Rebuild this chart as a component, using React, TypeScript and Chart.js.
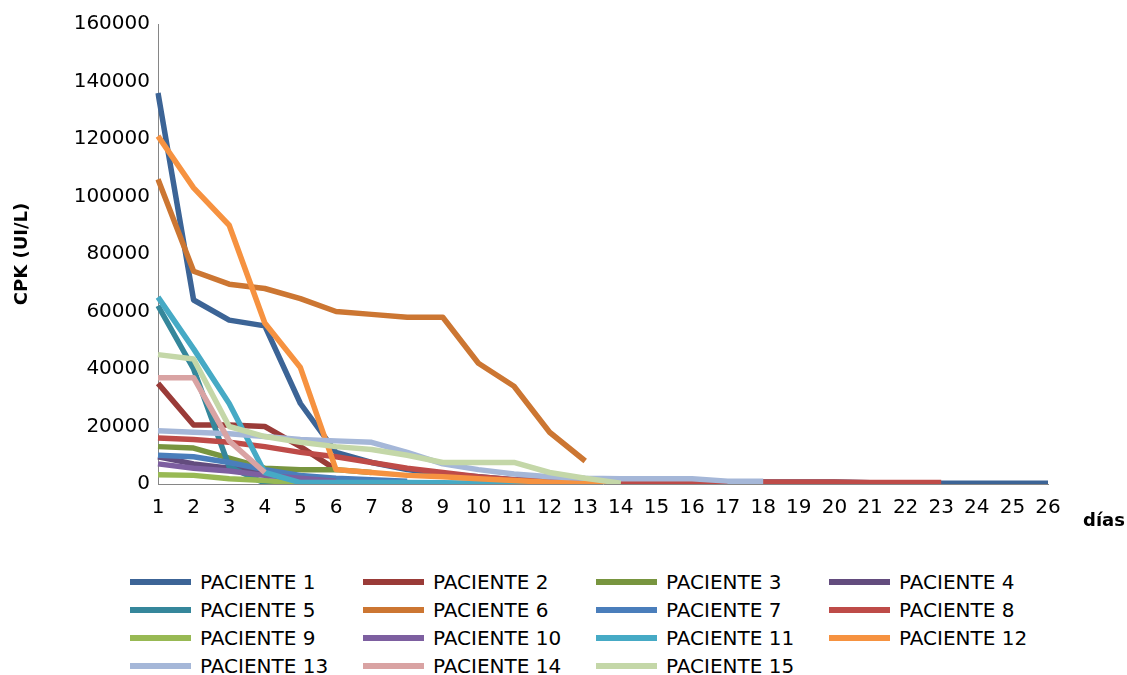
import React, { useEffect, useRef } from 'react';
import { Chart, registerables } from 'chart.js';

Chart.register(...registerables);

const days = Array.from({ length: 26 }, (_, i) => String(i + 1));
const yTicks = [0, 20000, 40000, 60000, 80000, 100000, 120000, 140000, 160000];

const seriesNames = [
  'PACIENTE 1', 'PACIENTE 2', 'PACIENTE 3', 'PACIENTE 4', 'PACIENTE 5',
  'PACIENTE 6', 'PACIENTE 7', 'PACIENTE 8', 'PACIENTE 9', 'PACIENTE 10',
  'PACIENTE 11', 'PACIENTE 12', 'PACIENTE 13', 'PACIENTE 14', 'PACIENTE 15',
];

const seriesColors = [
  '#3C6496', '#9A3B38', '#78953F', '#634C7E', '#35879B',
  '#CC7632', '#4A7EBB', '#BE4B48', '#98B954', '#7D5FA0',
  '#46AAC5', '#F69240', '#A5B7D8', '#D9A3A3', '#C4D7A8',
];

const p1 = [136000, 64000, 57000, 55000, 28000, 11000, 7500, 5000, 3500, 2500, 1500, 1200, 1000, 800, 600, 600, 500, 700, 700, 700, 400, 300, 300, 300, 300, 300];
const p2 = [35000, 20500, 20500, 20000, 13000, 5000];
const p3 = [13000, 12500, 9000, 5500, 5000, 5000, 4000];
const p4 = [9500, 7000, 5500, 4500, 500, 200];
const p5 = [62000, 40000, 6000, 300, 200];
const p6 = [106000, 74000, 69500, 68000, 64500, 60000, 59000, 58000, 58000, 42000, 34000, 18000, 8000];
const p7 = [10000, 9500, 7500, 5000, 3000, 2000, 1500, 1000];
const p8 = [16000, 15500, 14500, 13000, 11000, 9500, 7500, 5500, 4000, 2500, 1500, 1000, 700, 500, 500, 500, 200, 700, 700, 700, 500, 500, 500];
const p9 = [3200, 3000, 1800, 1200, 300];
const p10 = [7000, 5500, 4500, 3000, 2000, 1000];
const p11 = [65000, 47000, 28000, 4000, 500, 500, 500, 500, 400, 300, 300, 300];
const p12 = [121000, 103000, 90000, 56000, 40500, 5000, 4000, 3000, 2500, 1800, 1200, 600, 300, 100];
const p13 = [18500, 18000, 17500, 16500, 15500, 15000, 14500, 11000, 7000, 5000, 3500, 2500, 2000, 1800, 1800, 1800, 1000, 1000];
const p14 = [37000, 37000, 15000, 4000];
const p15 = [45000, 43500, 20000, 16500, 14500, 13000, 12000, 10000, 7500, 7500, 7500, 4000, 2000, 300];

const seriesValues = [p1, p2, p3, p4, p5, p6, p7, p8, p9, p10, p11, p12, p13, p14, p15];

const FONT = "'DejaVu Sans', 'Liberation Sans', Arial, sans-serif";

export default function App() {
  const canvasRef = useRef<HTMLCanvasElement | null>(null);

  useEffect(() => {
    const canvas = canvasRef.current;
    if (!canvas) return;
    const diasPlugin = {
      id: 'diasLabel',
      afterDraw(chart: any) {
        const ctx = chart.ctx;
        ctx.save();
        ctx.font = `bold 18px ${FONT}`;
        ctx.fillStyle = '#000';
        ctx.textAlign = 'center';
        ctx.textBaseline = 'middle';
        ctx.fillText('días', 1104, 521);
        ctx.restore();
      },
    };
    const chart = new Chart(canvas, {
      type: 'line',
      data: {
        labels: days,
        datasets: seriesValues.map((vals, i) => ({
          label: seriesNames[i],
          data: vals,
          borderColor: seriesColors[i],
          backgroundColor: seriesColors[i],
          borderWidth: 5.5,
          pointRadius: 0,
          pointHoverRadius: 0,
          tension: 0,
          fill: false,
          borderJoinStyle: 'round' as const,
          borderCapStyle: 'butt' as const,
          order: seriesValues.length - i,
        })),
      },
      options: {
        animation: false,
        responsive: false,
        layout: { padding: { left: 0, top: 24, right: 79, bottom: 0 } },
        plugins: {
          legend: { display: false },
          tooltip: { enabled: false },
        },
        scales: {
          x: {
            type: 'category',
            offset: false,
            grid: { display: false, drawTicks: false },
            border: { display: true, color: '#868686', width: 1 },
            ticks: {
              autoSkip: false,
              maxRotation: 0,
              minRotation: 0,
              padding: 12,
              color: '#000',
              font: { family: FONT, size: 20 },
            },
            afterFit: (scale: any) => {
              scale.height = 61;
            },
          },
          y: {
            min: 0,
            max: 160000,
            grid: { display: false, drawTicks: false },
            border: { display: true, color: '#868686', width: 1 },
            afterBuildTicks: (scale: any) => {
              scale.ticks = yTicks.map((v) => ({ value: v }));
            },
            ticks: {
              padding: 8,
              color: '#000',
              font: { family: FONT, size: 20 },
              callback: (v: any) => String(v),
            },
            title: {
              display: true,
              text: 'CPK (UI/L)',
              color: '#000',
              font: { family: FONT, size: 18, weight: 'bold' },
              padding: { top: 12, bottom: 0 },
            },
            afterFit: (scale: any) => {
              scale.width = 158;
            },
          },
        },
      },
      plugins: [diasPlugin],
    });
    return () => chart.destroy();
  }, []);

  return (
    <div style={{ position: 'absolute', left: 0, top: 0, width: 1127, height: 675, background: '#fff', overflow: 'hidden' }}>
      <canvas ref={canvasRef} width={1127} height={545} style={{ position: 'absolute', left: 0, top: 0 }} />
      {seriesNames.map((name, i) => {
        const row = Math.floor(i / 4);
        const col = i % 4;
        const cy = 581.5 + row * 28;
        const lx = 130 + col * 233;
        return (
          <React.Fragment key={name}>
            <div
              style={{
                position: 'absolute',
                left: lx,
                top: cy - 3,
                width: 61,
                height: 6,
                background: seriesColors[i],
              }}
            />
            <div
              style={{
                position: 'absolute',
                left: lx + 70,
                top: cy - 12,
                height: 24,
                lineHeight: '24px',
                fontFamily: FONT,
                fontSize: 20,
                color: '#000',
                whiteSpace: 'nowrap',
              }}
            >
              {name}
            </div>
          </React.Fragment>
        );
      })}
    </div>
  );
}
